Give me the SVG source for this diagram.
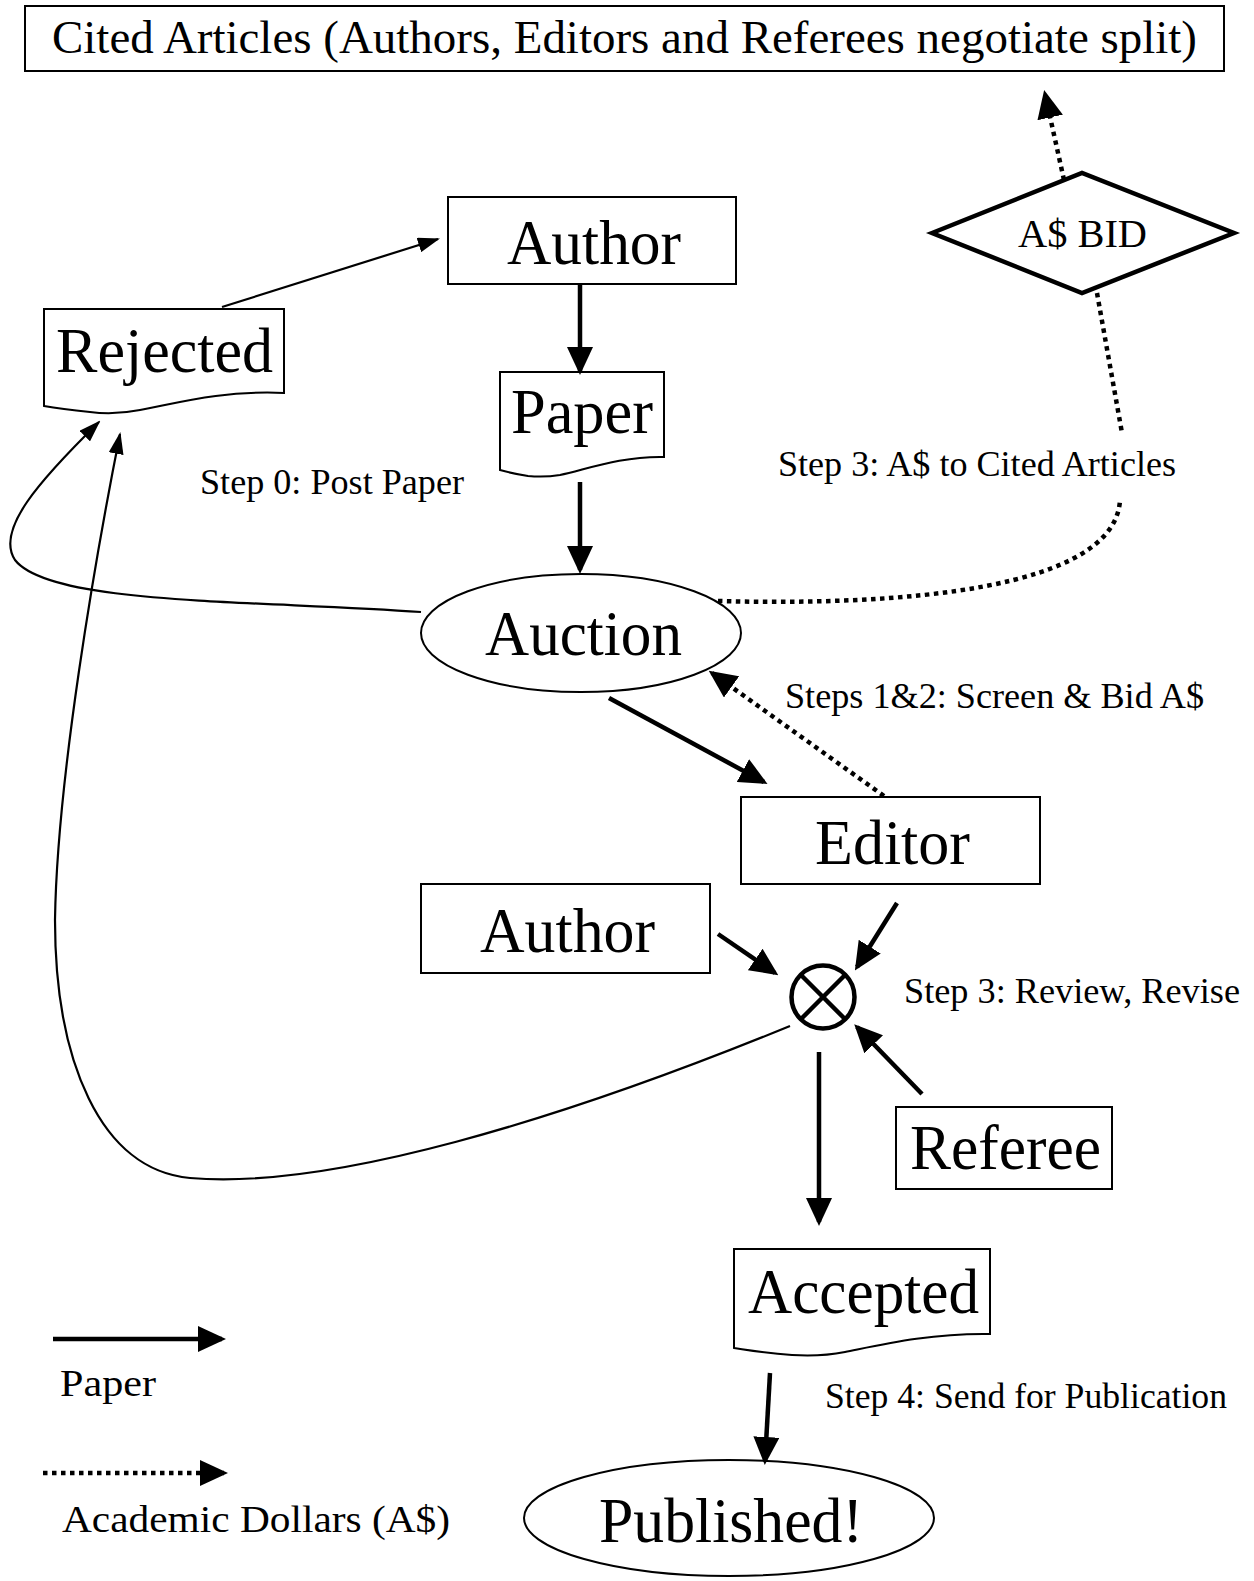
<svg xmlns="http://www.w3.org/2000/svg" width="1254" height="1581" viewBox="0 0 1254 1581">
<style>
text{font-family:'Liberation Serif','Times New Roman',Times,serif;fill:#000}
.big{font-size:64px}
.sm{font-size:35px}
.box{fill:#fff;stroke:#000;stroke-width:2}
.thick{fill:none;stroke:#000;stroke-width:4.5}
.thin{fill:none;stroke:#000;stroke-width:2.2}
.dot{fill:none;stroke:#000;stroke-width:4.5;stroke-dasharray:4.5 4.5}
</style>
<defs>
<marker id="ah" markerUnits="userSpaceOnUse" markerWidth="28" markerHeight="26" refX="24" refY="13" orient="auto"><path d="M0,0 L28,13 L0,26 Z" fill="#000"/></marker>
<marker id="ahs" markerUnits="userSpaceOnUse" markerWidth="22" markerHeight="15" refX="20" refY="7.5" orient="auto"><path d="M0,0 L22,7.5 L0,15 Z" fill="#000"/></marker>
</defs>
<rect width="1254" height="1581" fill="#fff"/>
<g font-family="Liberation Serif, serif">

<g id="cited">
<rect class="box" x="25" y="6" width="1199" height="65"/>
<text x="52" y="53" style="font-size:46px" textLength="1145" lengthAdjust="spacingAndGlyphs">Cited Articles (Authors, Editors and Referees negotiate split)</text>
</g>

<g id="author1">
<rect class="box" x="448" y="197" width="288" height="87"/>
<text class="big" x="507" y="264" textLength="174" lengthAdjust="spacingAndGlyphs">Author</text>
</g>

<g id="rejected">
<path class="box" d="M44,309 H284 V393 C220,390 170,405 140,410 C120,414 105,414 90,412 C70,410 55,408 44,406 Z"/>
<text class="big" x="56" y="372" textLength="217" lengthAdjust="spacingAndGlyphs">Rejected</text>
</g>

<g id="paper">
<path class="box" d="M500,372 H664 V457 C620,456 585,470 560,475 C548,477 538,477 528,476 C515,474 507,472 500,470 Z"/>
<text class="big" x="511" y="433" textLength="142" lengthAdjust="spacingAndGlyphs">Paper</text>
</g>

<g id="auction">
<ellipse class="box" cx="581" cy="633" rx="160" ry="59"/>
<text class="big" x="485" y="655" textLength="197" lengthAdjust="spacingAndGlyphs">Auction</text>
</g>

<g id="bid">
<polygon points="932,233 1082,173 1234,233 1082,293" fill="#fff" stroke="#000" stroke-width="4.5"/>
<text x="1018" y="247" style="font-size:40px" textLength="129" lengthAdjust="spacingAndGlyphs">A$ BID</text>
</g>

<g id="editor">
<rect class="box" x="741" y="797" width="299" height="87"/>
<text class="big" x="815" y="864" textLength="155" lengthAdjust="spacingAndGlyphs">Editor</text>
</g>

<g id="author2">
<rect class="box" x="421" y="884" width="289" height="89"/>
<text class="big" x="480" y="952" textLength="175" lengthAdjust="spacingAndGlyphs">Author</text>
</g>

<g id="review">
<circle cx="823" cy="997" r="31.5" fill="#fff" stroke="#000" stroke-width="4.5"/>
<line x1="800.5" y1="974.5" x2="845.5" y2="1019.5" stroke="#000" stroke-width="4.5"/>
<line x1="845.5" y1="974.5" x2="800.5" y2="1019.5" stroke="#000" stroke-width="4.5"/>
</g>

<g id="referee">
<rect class="box" x="896" y="1107" width="216" height="82"/>
<text class="big" x="910" y="1169" textLength="191" lengthAdjust="spacingAndGlyphs">Referee</text>
</g>

<g id="accepted">
<path class="box" d="M734,1249 H990 V1334 C930,1333 880,1345 845,1352 C825,1356 808,1356 792,1355 C765,1353 748,1350 734,1348 Z"/>
<text class="big" x="748" y="1313" textLength="231" lengthAdjust="spacingAndGlyphs">Accepted</text>
</g>

<g id="published">
<ellipse class="box" cx="729" cy="1518" rx="205" ry="58"/>
<text class="big" x="599" y="1542" textLength="264" lengthAdjust="spacingAndGlyphs">Published!</text>
</g>

<g id="labels">
<text class="sm" x="200" y="494" textLength="264" lengthAdjust="spacingAndGlyphs">Step 0: Post Paper</text>
<text class="sm" x="778" y="476" textLength="398" lengthAdjust="spacingAndGlyphs">Step 3: A$ to Cited Articles</text>
<text class="sm" x="785" y="708" textLength="419" lengthAdjust="spacingAndGlyphs">Steps 1&amp;2: Screen &amp; Bid A$</text>
<text class="sm" x="904" y="1003" textLength="336" lengthAdjust="spacingAndGlyphs">Step 3: Review, Revise</text>
<text class="sm" x="825" y="1408" textLength="402" lengthAdjust="spacingAndGlyphs">Step 4: Send for Publication</text>
</g>

<g id="legend">
<line class="thick" x1="53" y1="1339" x2="222" y2="1339" marker-end="url(#ah)"/>
<text x="60" y="1396" style="font-size:38px" textLength="96" lengthAdjust="spacingAndGlyphs">Paper</text>
<line class="dot" x1="43" y1="1473" x2="224" y2="1473" marker-end="url(#ah)"/>
<text x="62" y="1532" style="font-size:38px" textLength="388" lengthAdjust="spacingAndGlyphs">Academic Dollars (A$)</text>
</g>

<g id="connectors">
<line class="thin" x1="222" y1="307" x2="438" y2="239" marker-end="url(#ahs)"/>
<line class="thick" x1="580" y1="284" x2="580" y2="371" marker-end="url(#ah)"/>
<line class="thick" x1="580" y1="482" x2="580" y2="570" marker-end="url(#ah)"/>
<path class="thin" d="M421,612 C250,600 50,605 15,560 C-5,530 40,480 99,422" marker-end="url(#ahs)"/>
<path class="thin" d="M790,1026 C560,1120 330,1190 190,1178 C100,1170 55,1060 55,920 C57,780 95,560 120,434" marker-end="url(#ahs)"/>
<line class="thick" x1="609" y1="698" x2="764" y2="782" marker-end="url(#ah)"/>
<line class="dot" x1="884" y1="796" x2="712" y2="673" marker-end="url(#ah)"/>
<path class="dot" d="M718,601 C900,606 1115,590 1120,500"/>
<line class="dot" x1="1097" y1="293" x2="1122" y2="433"/>
<line class="dot" x1="1064" y1="180" x2="1045" y2="94" marker-end="url(#ah)"/>
<line class="thick" x1="897" y1="903" x2="857" y2="967" marker-end="url(#ah)"/>
<line class="thick" x1="718" y1="934" x2="775" y2="973" marker-end="url(#ah)"/>
<line class="thick" x1="922" y1="1094" x2="857" y2="1027" marker-end="url(#ah)"/>
<line class="thick" x1="819" y1="1052" x2="819" y2="1222" marker-end="url(#ah)"/>
<line class="thick" x1="770" y1="1373" x2="765" y2="1461" marker-end="url(#ah)"/>
</g>
</g>
</svg>
